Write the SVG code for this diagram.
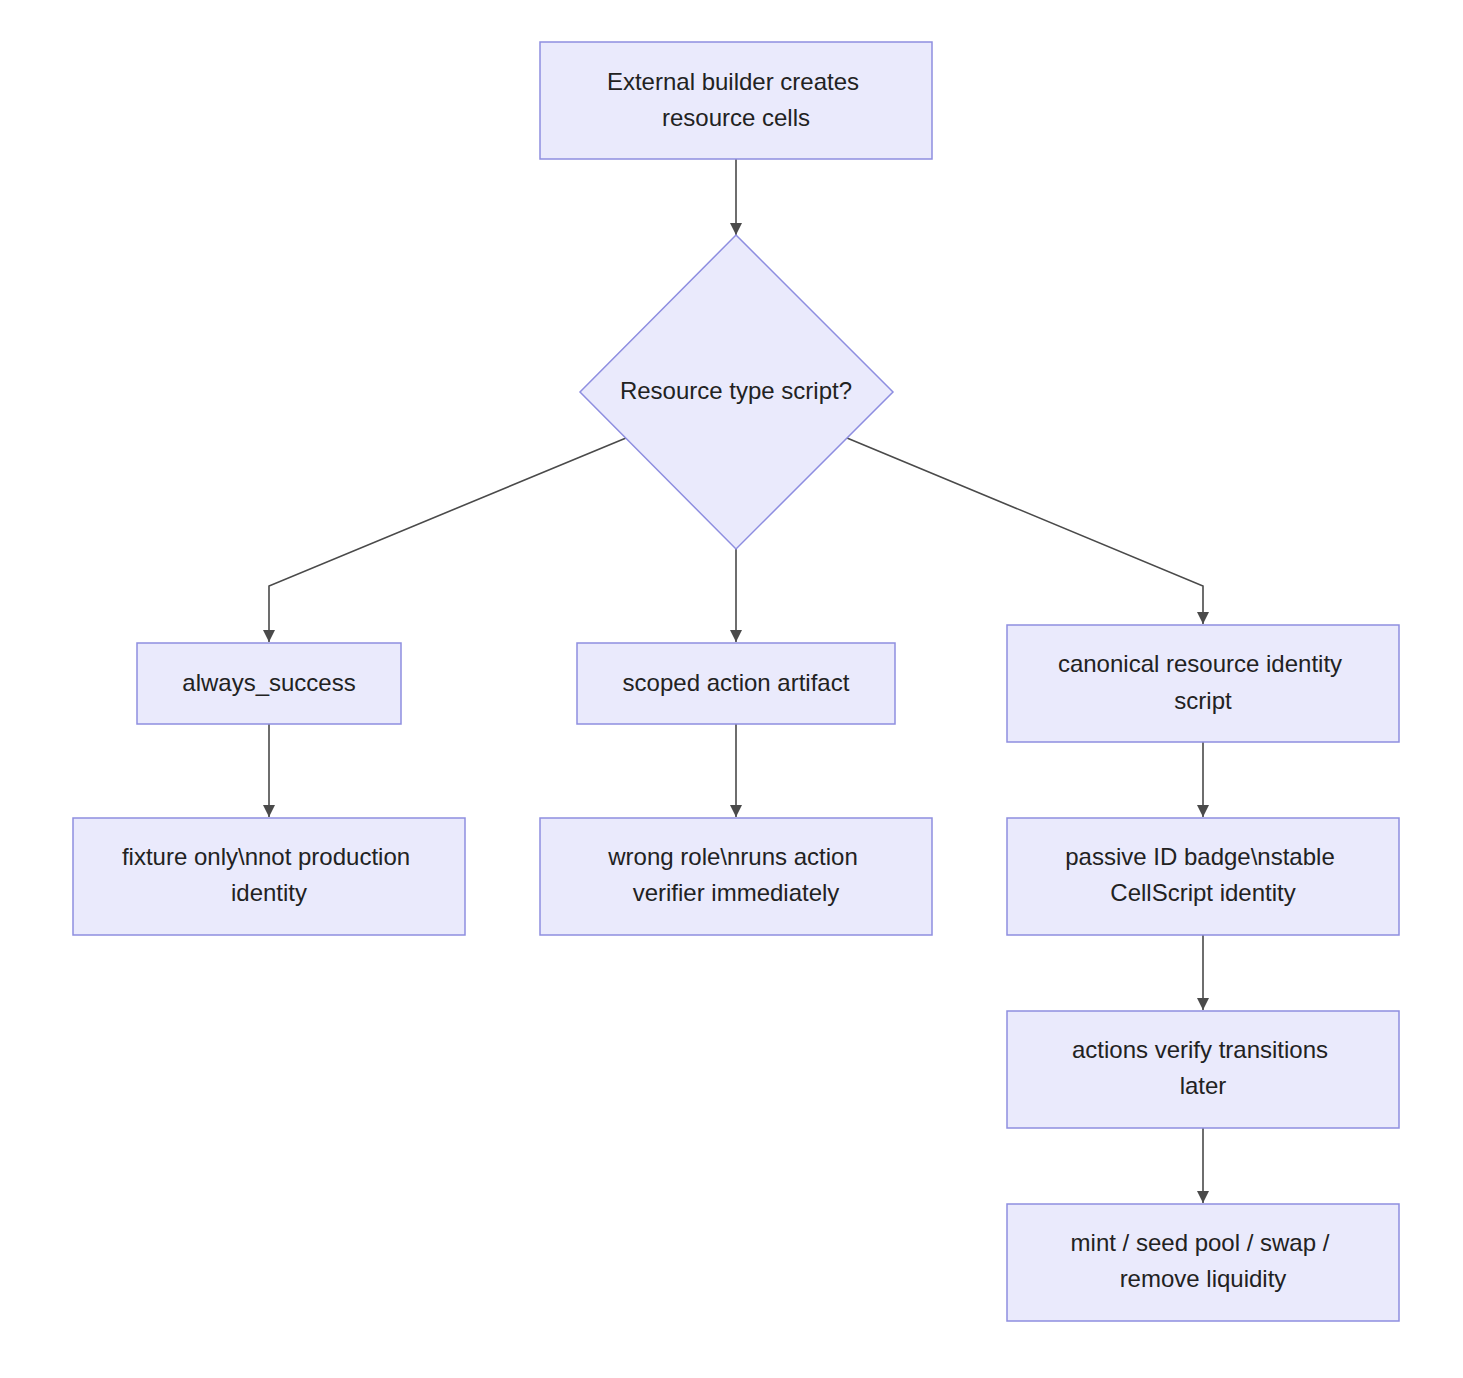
<svg xmlns="http://www.w3.org/2000/svg" width="1463" height="1378" viewBox="0 0 1463 1378">
<defs>
<marker id="arrow" viewBox="0 0 10 10" refX="10" refY="5" markerWidth="12" markerHeight="12" markerUnits="userSpaceOnUse" orient="auto">
<path d="M0,0 L10,5 L0,10 z" fill="#4a4a4a"/>
</marker>
<style>
.node rect, .node polygon { fill: #EAEAFC; stroke: #8E8EE0; stroke-width: 1.5; }
.node text { font-family: "Liberation Sans", Arial, sans-serif; font-size: 24px; fill: #222222; text-anchor: middle; }
.edges path { fill: none; stroke: #4a4a4a; stroke-width: 1.6; marker-end: url(#arrow); }
</style>
</defs>
<rect width="1463" height="1378" fill="#ffffff"/>
<g class="edges">
<path d="M736,159 L736,235"/>
<path d="M626,438 L269,586 L269,642"/>
<path d="M736,549 L736,642"/>
<path d="M847,438 L1203,586 L1203,624"/>
<path d="M269,724 L269,817"/>
<path d="M736,724 L736,817"/>
<path d="M1203,742 L1203,817"/>
<path d="M1203,935 L1203,1010"/>
<path d="M1203,1128 L1203,1203"/>
</g>
<g id="n-start" class="node">
<rect x="540" y="42" width="392" height="117"/>
<text x="733" y="90">External builder creates</text>
<text x="736" y="126">resource cells</text>
</g>
<g id="n-decision" class="node">
<polygon points="736,235 893,392 736,549 580,392"/>
<text x="736" y="399">Resource type script?</text>
</g>
<g id="n-always" class="node">
<rect x="137" y="643" width="264" height="81"/>
<text x="269" y="691">always_success</text>
</g>
<g id="n-scoped" class="node">
<rect x="577" y="643" width="318" height="81"/>
<text x="736" y="691">scoped action artifact</text>
</g>
<g id="n-canonical" class="node">
<rect x="1007" y="625" width="392" height="117"/>
<text x="1200" y="672">canonical resource identity</text>
<text x="1203" y="709">script</text>
</g>
<g id="n-fixture" class="node">
<rect x="73" y="818" width="392" height="117"/>
<text x="266" y="865">fixture only\nnot production</text>
<text x="269" y="901">identity</text>
</g>
<g id="n-wrong" class="node">
<rect x="540" y="818" width="392" height="117"/>
<text x="733" y="865">wrong role\nruns action</text>
<text x="736" y="901">verifier immediately</text>
</g>
<g id="n-passive" class="node">
<rect x="1007" y="818" width="392" height="117"/>
<text x="1200" y="865">passive ID badge\nstable</text>
<text x="1203" y="901">CellScript identity</text>
</g>
<g id="n-actions" class="node">
<rect x="1007" y="1011" width="392" height="117"/>
<text x="1200" y="1058">actions verify transitions</text>
<text x="1203" y="1094">later</text>
</g>
<g id="n-mint" class="node">
<rect x="1007" y="1204" width="392" height="117"/>
<text x="1200" y="1251">mint / seed pool / swap /</text>
<text x="1203" y="1287">remove liquidity</text>
</g>
</svg>
